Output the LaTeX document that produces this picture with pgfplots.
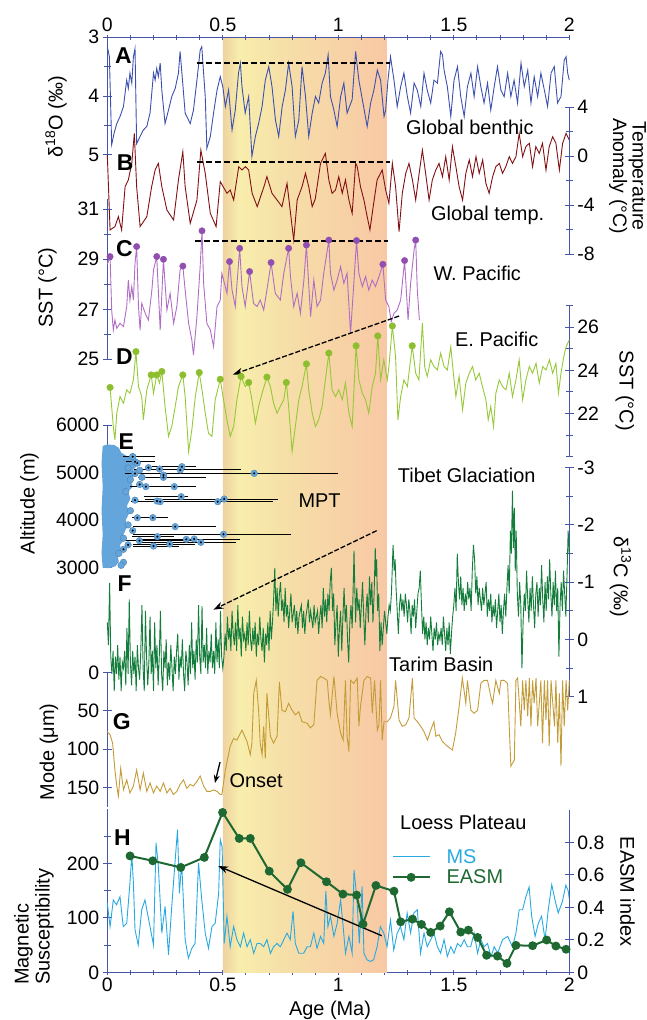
\documentclass[border=0pt]{standalone}
\usepackage{fontspec}
\setmainfont{Liberation Sans}
\usepackage{pgfplots}
\pgfplotsset{compat=1.18}
\usetikzlibrary{arrows.meta}

\definecolor{axisblue}{RGB}{70,85,165}
\definecolor{cA}{RGB}{60,80,175}
\definecolor{cB}{RGB}{130,15,20}
\definecolor{cC}{RGB}{175,110,195}
\definecolor{cCm}{RGB}{145,80,175}
\definecolor{cD}{RGB}{150,200,55}
\definecolor{cDm}{RGB}{140,190,45}
\definecolor{cE}{RGB}{100,165,220}
\definecolor{cF}{RGB}{20,125,60}
\definecolor{cG}{RGB}{195,155,55}
\definecolor{cMS}{RGB}{40,170,225}
\definecolor{cEASM}{RGB}{30,105,50}
\definecolor{bandTan}{RGB}{238,210,160}
\definecolor{bandYel}{RGB}{248,238,172}
\definecolor{bandMid}{RGB}{246,224,168}
\definecolor{bandPeach}{RGB}{248,200,165}

\newcommand\lblfont{\fontsize{20}{21}\selectfont}
\newcommand\tickfont{\fontsize{19.5}{21}\selectfont}
\newcommand\letfont{\fontsize{23}{25}\selectfont\bfseries}

\pgfplotsset{
  noarrows/.style={
    every inner x axis line/.append style={-},
    every outer x axis line/.append style={-},
    every inner y axis line/.append style={-},
    every outer y axis line/.append style={-}},
  base/.style={scale only axis, width=462bp, xmin=0, xmax=2, clip=false, anchor=center,
    tick align=outside, axis line style={draw=axisblue, line width=1bp},
    tick style={draw=axisblue, line width=1bp},
    tick label style={font=\tickfont, text=black},
    /pgf/number format/assume math mode=true, /pgf/number format/1000 sep={}},
  lp/.style={base, axis x line=none, axis y line=left, noarrows, major tick length=9bp, minor tick length=7bp},
  rp/.style={base, axis x line=none, axis y line=right, noarrows, major tick length=9bp, minor tick length=7bp},
}

\begin{document}
\begin{tikzpicture}
\useasboundingbox (0,0) rectangle (647bp,-1020bp);

% ---------- frame (bottom axis) with shaded band ----------
\begin{axis}[base, height=935bp, at={(338.3bp,-504.8bp)}, ymin=0, ymax=1,
  axis y line=none, axis x line=bottom, noarrows,
  xtick={0,0.5,1,1.5,2}, xticklabels={0,0.5,1,1.5,2},
  minor xtick={0.1,0.2,0.3,0.4,0.6,0.7,0.8,0.9,1.1,1.2,1.3,1.4,1.6,1.7,1.8,1.9},
  major tick length=5bp, minor tick length=4.5bp]
\addplot[draw=none, left color=bandTan, right color=bandYel] coordinates {(0.5,0)(0.572,0)(0.572,1)(0.5,1)} -- cycle;
\addplot[draw=none, left color=bandYel, right color=bandMid] coordinates {(0.57,0)(0.752,0)(0.752,1)(0.57,1)} -- cycle;
\addplot[draw=none, left color=bandMid, right color=bandPeach] coordinates {(0.75,0)(1.21,0)(1.21,1)(0.75,1)} -- cycle;
\end{axis}

% ---------- frame (top axis) ----------
\begin{axis}[base, height=935bp, at={(338.3bp,-504.8bp)}, ymin=0, ymax=1,
  axis y line=none, axis x line=top, noarrows,
  xtick={0,0.5,1,1.5,2}, xticklabels={0,0.5,1,1.5,2},
  minor xtick={0.1,0.2,0.3,0.4,0.6,0.7,0.8,0.9,1.1,1.2,1.3,1.4,1.6,1.7,1.8,1.9},
  major tick length=5bp, minor tick length=4.5bp]
\end{axis}

% ---------- A: global benthic d18O ----------
\begin{axis}[lp, height=117.4bp, at={(338.3bp,-96bp)}, ymin=3, ymax=5, y dir=reverse,
  ytick={3,4,5}, minor ytick={3.5,4.5}]
\addplot[cA, line width=0.9bp] coordinates {
(0.000,3.16)(0.009,3.33)(0.019,4.83)(0.029,4.64)(0.041,4.47)(0.055,4.35)(0.070,4.18)(0.077,3.95)(0.084,3.73)(0.091,3.87)(0.098,3.61)(0.106,3.78)(0.113,3.33)(0.120,3.19)(0.127,4.81)(0.142,4.69)(0.156,4.58)(0.171,4.52)(0.185,4.29)(0.200,3.61)(0.207,3.73)(0.214,3.53)(0.221,3.67)(0.229,3.44)(0.236,3.90)(0.250,4.47)(0.265,4.24)(0.279,4.01)(0.294,3.87)(0.308,3.61)(0.315,3.24)(0.323,3.61)(0.337,4.29)(0.359,4.47)(0.373,4.24)(0.388,3.73)(0.402,3.22)(0.409,3.16)(0.424,4.01)(0.431,4.89)(0.446,4.69)(0.460,4.29)(0.475,3.90)(0.489,3.67)(0.500,3.84)(0.511,4.18)(0.525,3.90)(0.540,4.58)(0.554,4.24)(0.568,3.61)(0.576,3.44)(0.583,3.84)(0.597,4.29)(0.612,4.01)(0.626,5.03)(0.641,4.69)(0.655,4.47)(0.670,4.18)(0.684,3.73)(0.699,3.50)(0.713,3.84)(0.728,4.41)(0.742,4.69)(0.757,4.18)(0.771,3.90)(0.785,3.44)(0.800,3.84)(0.814,4.69)(0.829,4.41)(0.843,3.50)(0.858,4.01)(0.872,4.69)(0.887,4.29)(0.901,4.01)(0.915,4.12)(0.930,3.78)(0.944,3.61)(0.956,3.30)(0.966,4.01)(0.981,4.24)(0.995,4.52)(1.010,4.01)(1.024,3.78)(1.038,4.29)(1.060,4.06)(1.075,3.24)(1.089,3.73)(1.104,4.06)(1.125,4.52)(1.140,4.12)(1.154,3.90)(1.169,3.56)(1.183,3.73)(1.198,4.35)(1.205,4.24)(1.215,3.73)(1.226,3.33)(1.241,3.73)(1.255,4.18)(1.270,3.84)(1.284,3.61)(1.299,4.01)(1.313,4.29)(1.328,3.78)(1.342,3.90)(1.357,4.18)(1.371,3.61)(1.385,3.90)(1.400,4.12)(1.414,3.73)(1.429,3.78)(1.443,3.24)(1.451,3.30)(1.458,3.56)(1.472,3.84)(1.487,4.35)(1.501,3.73)(1.516,3.50)(1.530,4.01)(1.545,4.35)(1.559,3.84)(1.574,3.61)(1.588,4.01)(1.603,3.50)(1.617,3.84)(1.631,4.12)(1.646,3.78)(1.660,4.24)(1.675,3.84)(1.689,3.50)(1.704,3.90)(1.718,4.01)(1.733,3.61)(1.747,4.01)(1.761,3.73)(1.776,4.12)(1.791,3.44)(1.805,3.84)(1.820,3.56)(1.834,4.12)(1.848,3.67)(1.863,4.01)(1.877,3.61)(1.892,3.90)(1.906,4.18)(1.921,3.61)(1.935,3.50)(1.949,4.12)(1.964,4.01)(1.978,3.39)(1.986,3.33)(1.993,3.61)(2.000,3.73)};
\draw[black, line width=1.6bp, dash pattern=on 6bp off 3bp] (axis cs:0.387,3.44) -- (axis cs:1.224,3.44);
\end{axis}

% ---------- B: global temperature ----------
\begin{axis}[rp, height=147bp, at={(338.3bp,-180.8bp)}, ymin=-8, ymax=4,
  ytick={-8,-4,0,4}, minor ytick={-6,-2,2}]
\addplot[cB, line width=0.9bp] coordinates {
(0.000,0.11)(0.012,-6.01)(0.033,-5.74)(0.048,-4.93)(0.062,-6.01)(0.077,-2.48)(0.091,-1.93)(0.106,-0.58)(0.117,1.87)(0.127,-2.48)(0.142,-5.74)(0.171,-4.93)(0.192,-2.48)(0.207,-1.12)(0.221,-0.58)(0.236,-2.48)(0.258,-4.38)(0.287,-5.20)(0.308,-1.93)(0.327,0.38)(0.337,-2.48)(0.359,-5.47)(0.388,-3.57)(0.405,0.51)(0.424,-1.39)(0.446,-4.66)(0.471,-5.74)(0.489,-2.07)(0.518,-3.02)(0.532,-2.75)(0.547,-3.57)(0.569,-0.85)(0.583,-1.12)(0.598,-0.85)(0.612,-1.12)(0.627,-3.02)(0.649,-4.11)(0.678,-2.48)(0.691,-1.66)(0.713,-3.02)(0.735,-3.57)(0.756,-4.11)(0.778,-2.21)(0.800,-5.74)(0.807,-6.83)(0.822,-3.57)(0.843,-2.48)(0.858,-1.39)(0.872,-2.48)(0.887,-4.11)(0.900,-3.5)(0.912,-2.0)(0.923,-0.58)(0.944,0.24)(0.959,-1.93)(0.973,-3.02)(0.988,-2.75)(1.002,-1.66)(1.017,-3.02)(1.031,-1.93)(1.046,-3.57)(1.060,-4.66)(1.075,-0.58)(1.082,-0.85)(1.096,-2.48)(1.111,-3.57)(1.125,-4.93)(1.137,-6.01)(1.151,-4.11)(1.168,-1.93)(1.190,-1.12)(1.205,-2.75)(1.219,-3.84)(1.234,-0.58)(1.248,-2.48)(1.263,-6.15)(1.277,-3.02)(1.292,-1.39)(1.306,-0.58)(1.321,-1.93)(1.335,-3.57)(1.350,-1.39)(1.364,0.51)(1.378,-1.39)(1.393,-3.57)(1.407,-1.93)(1.422,-1.12)(1.436,-0.58)(1.451,-1.66)(1.465,-0.03)(1.480,-1.93)(1.494,0.79)(1.509,-0.85)(1.523,-2.48)(1.538,-3.57)(1.552,-1.39)(1.567,-0.30)(1.581,-1.66)(1.596,-0.03)(1.610,-1.39)(1.625,-0.30)(1.639,-2.21)(1.653,-3.02)(1.668,-1.66)(1.682,-0.85)(1.697,-0.58)(1.711,-1.39)(1.725,-0.85)(1.740,-0.03)(1.754,-0.58)(1.769,-0.03)(1.783,1.87)(1.798,-0.03)(1.812,0.79)(1.827,1.06)(1.841,-0.85)(1.855,0.79)(1.870,0.24)(1.884,1.06)(1.899,-1.12)(1.913,0.79)(1.928,1.60)(1.942,1.06)(1.957,-1.12)(1.971,1.06)(1.986,1.87)(2.000,1.33)};
\draw[black, line width=1.6bp, dash pattern=on 6bp off 3bp] (axis cs:0.387,-0.47) -- (axis cs:1.224,-0.47);
\end{axis}

% ---------- C: W. Pacific SST ----------
\begin{axis}[lp, height=160bp, at={(338.3bp,-279.3bp)}, ymin=25, ymax=31.4,
  ytick={25,27,29,31}, minor ytick={26,28,30}]
\addplot[cC, line width=0.9bp] coordinates {
(0.000,28.8)(0.012,29.11)(0.019,26.97)(0.026,26.17)(0.033,26.57)(0.041,26.24)(0.055,26.44)(0.070,26.31)(0.084,27.11)(0.091,28.17)(0.098,27.37)(0.106,27.91)(0.113,27.37)(0.120,28.84)(0.127,29.51)(0.135,27.11)(0.142,26.17)(0.149,27.24)(0.164,26.84)(0.178,26.57)(0.193,27.77)(0.200,28.57)(0.214,29.11)(0.229,26.17)(0.243,29.00)(0.258,26.97)(0.272,27.64)(0.287,26.44)(0.301,27.11)(0.315,28.57)(0.327,28.73)(0.337,27.77)(0.352,26.44)(0.366,25.77)(0.373,25.17)(0.388,26.71)(0.402,28.71)(0.410,30.14)(0.417,28.04)(0.431,26.44)(0.446,26.17)(0.460,25.51)(0.475,27.11)(0.489,27.37)(0.496,28.44)(0.518,27.64)(0.529,28.91)(0.540,27.77)(0.554,27.11)(0.573,29.44)(0.583,27.91)(0.597,27.11)(0.616,28.51)(0.633,27.24)(0.648,27.11)(0.662,27.37)(0.677,26.97)(0.691,27.77)(0.709,28.87)(0.727,27.64)(0.749,27.37)(0.764,28.44)(0.785,29.44)(0.793,28.31)(0.807,27.11)(0.822,27.64)(0.836,26.84)(0.851,28.17)(0.862,29.57)(0.880,26.71)(0.894,28.17)(0.908,27.11)(0.923,27.37)(0.937,28.44)(0.959,29.77)(0.966,28.44)(0.981,27.77)(0.995,28.17)(1.010,28.71)(1.024,28.04)(1.038,28.44)(1.053,26.04)(1.068,28.17)(1.079,29.75)(1.089,28.44)(1.104,27.91)(1.118,28.31)(1.132,27.77)(1.147,28.17)(1.161,27.91)(1.176,28.31)(1.193,28.80)(1.205,27.37)(1.219,27.11)(1.229,26.51)(1.241,26.84)(1.255,26.97)(1.270,27.37)(1.287,28.95)(1.302,26.57)(1.313,28.04)(1.328,29.37)(1.335,29.77)(1.342,27.77)(1.351,26.57)};
\addplot[only marks, mark=*, mark size=3.2bp, cCm] coordinates {
(0.012,29.11)(0.127,29.51)(0.214,29.11)(0.243,29.00)(0.327,28.73)(0.410,30.14)(0.529,28.91)(0.573,29.44)(0.616,28.51)(0.709,28.87)(0.785,29.44)(0.862,29.57)(0.959,29.77)(1.079,29.75)(1.193,28.80)(1.287,28.95)(1.335,29.77)};
\draw[black, line width=1.6bp, dash pattern=on 6bp off 3bp] (axis cs:0.38,29.74) -- (axis cs:1.215,29.74);
\end{axis}

% ---------- D: E. Pacific SST ----------
\begin{axis}[rp, height=151bp, at={(338.3bp,-381.2bp)}, ymin=20, ymax=27,
  ytick={22,24,26}, minor ytick={20,21,23,25,27}]
\addplot[cD, line width=0.9bp] coordinates {
(0.012,23.21)(0.026,21.40)(0.033,20.78)(0.041,22.02)(0.055,22.79)(0.070,22.48)(0.084,23.10)(0.098,22.94)(0.113,23.56)(0.124,24.87)(0.135,23.25)(0.149,22.79)(0.156,21.71)(0.171,23.10)(0.190,23.79)(0.200,22.94)(0.214,23.79)(0.226,23.41)(0.236,23.95)(0.250,22.33)(0.265,20.94)(0.279,21.40)(0.294,22.33)(0.308,23.25)(0.327,23.79)(0.337,22.79)(0.352,20.24)(0.366,21.25)(0.381,22.79)(0.398,23.90)(0.410,23.10)(0.424,22.02)(0.438,21.09)(0.453,20.94)(0.467,22.64)(0.489,23.59)(0.503,22.64)(0.518,21.71)(0.532,20.94)(0.547,21.40)(0.561,22.64)(0.579,23.72)(0.597,23.25)(0.612,23.44)(0.626,22.64)(0.641,21.56)(0.655,22.33)(0.670,22.94)(0.691,23.69)(0.706,23.25)(0.720,22.48)(0.735,22.02)(0.749,22.33)(0.764,22.64)(0.775,23.44)(0.785,22.33)(0.800,20.24)(0.814,21.40)(0.829,22.64)(0.843,23.25)(0.862,24.30)(0.872,23.10)(0.887,22.02)(0.901,21.40)(0.915,21.71)(0.930,22.33)(0.944,23.56)(0.959,24.80)(0.973,23.10)(0.988,22.79)(1.002,23.10)(1.017,22.64)(1.031,23.41)(1.046,22.02)(1.060,21.40)(1.077,25.14)(1.089,23.56)(1.104,22.94)(1.118,22.64)(1.132,22.02)(1.147,23.25)(1.161,23.87)(1.171,25.60)(1.183,23.56)(1.197,24.49)(1.212,23.56)(1.219,24.18)(1.234,26.06)(1.248,24.64)(1.258,21.71)(1.270,22.79)(1.284,23.56)(1.299,23.25)(1.320,25.14)(1.335,23.87)(1.349,23.56)(1.364,26.19)(1.374,24.18)(1.385,23.72)(1.400,24.49)(1.414,24.18)(1.429,24.02)(1.443,24.80)(1.458,24.18)(1.472,24.02)(1.487,25.10)(1.498,23.87)(1.509,22.79)(1.523,23.72)(1.538,22.17)(1.552,23.41)(1.567,23.87)(1.581,24.18)(1.595,23.56)(1.610,23.87)(1.624,23.25)(1.639,22.64)(1.649,21.71)(1.660,22.33)(1.672,21.40)(1.682,22.94)(1.697,23.56)(1.711,23.25)(1.726,23.10)(1.740,23.87)(1.754,22.79)(1.769,23.56)(1.783,24.49)(1.798,22.64)(1.812,23.56)(1.827,24.18)(1.841,23.87)(1.856,24.33)(1.870,23.41)(1.885,24.18)(1.899,24.02)(1.914,24.49)(1.928,23.87)(1.942,24.33)(1.953,22.94)(1.964,23.87)(1.976,24.64)(1.986,25.10)(2.000,25.41)};
\addplot[only marks, mark=*, mark size=3.3bp, cDm] coordinates {
(0.012,23.21)(0.124,24.87)(0.190,23.79)(0.214,23.79)(0.236,23.95)(0.327,23.79)(0.398,23.90)(0.489,23.59)(0.579,23.72)(0.612,23.44)(0.691,23.69)(0.775,23.44)(0.862,24.30)(0.959,24.80)(1.077,25.14)(1.171,25.60)(1.234,26.06)(1.320,25.14)};
\draw[black, line width=1.3bp, dash pattern=on 5bp off 2bp, -{Stealth[length=10bp,width=7bp]}] (axis cs:1.263,26.52) -- (axis cs:0.544,23.81);
\end{axis}

% ---------- E: Tibet altitude ----------
\begin{axis}[lp, height=142.7bp, at={(338.3bp,-496.35bp)}, ymin=3000, ymax=6000,
  ytick={3000,4000,5000,6000}, minor ytick={3500,4500,5500}]
\addplot[draw=none, fill=cE] coordinates {
(-0.02,5560)(0.0,5590)(0.03,5580)(0.05,5520)(0.06,5420)(0.09,5330)(0.12,5250)(0.13,5150)(0.11,5050)(0.12,4950)(0.10,4850)(0.11,4700)(0.09,4600)(0.10,4450)(0.085,4300)(0.095,4150)(0.08,4000)(0.085,3850)(0.07,3700)(0.075,3600)(0.055,3480)(0.06,3350)(0.045,3250)(0.05,3120)(0.035,3030)(0.01,2990)(-0.02,3000)(-0.025,3300)(-0.02,3700)(-0.025,4200)(-0.02,4700)(-0.025,5200)} -- cycle;
\addplot[only marks, mark=*, mark size=3.3bp, mark options={fill=cE, draw=cE!80!black, line width=0.4bp},
  error bars/.cd, x dir=both, x explicit, error bar style={black, line width=0.8bp}, error mark options={black, line width=0.8bp, mark size=2.5bp}] coordinates {
(0.110,5334) += (0.087,0) -= (0.03,0)
(0.120,5229) += (0.077,0) -= (0.03,0)
(0.226,5075) += (0.343,0) -= (0.10,0)
(0.323,5124) += (0.05,0) -= (0.12,0)
(0.636,4984) += (0.352,0) -= (0.55,0)
(0.243,4900) += (0.174,0) -= (0.10,0)
(0.167,4704) += (0.206,0) -= (0.06,0)
(0.290,4704) += (0.03,0) -= (0.10,0)
(0.215,4402) += (0.05,0) -= (0.10,0)
(0.320,4493) += (0.02,0) -= (0.15,0)
(0.478,4388) += (0.228,0) -= (0.30,0)
(0.506,4444) += (0.221,0) -= (0.33,0)
(0.197,4052) += (0.057,0) -= (0.08,0)
(0.294,3863) += (0.166,0) -= (0.17,0)
(0.503,3702) += (0.282,0) -= (0.38,0)
(0.139,3568) += (0.234,0) -= (0.05,0)
(0.217,3653) += (0.06,0) -= (0.10,0)
(0.200,3456) += (0.10,0) -= (0.08,0)
(0.270,3498) += (0.10,0) -= (0.15,0)
(0.342,3596) += (0.222,0) -= (0.20,0)
(0.376,3603) += (0.10,0) -= (0.20,0)
(0.405,3533) += (0.142,0) -= (0.25,0)
(0.178,5103) += (0.0,0) -= (0.0,0)
(0.316,5054) += (0.0,0) -= (0.0,0)
(0.243,4949) += (0.0,0) -= (0.0,0)
(0.229,4388) += (0.0,0) -= (0.0,0)
};
\addplot[only marks, mark=*, mark size=3.3bp, mark options={fill=cE, draw=cE!80!black, line width=0.4bp}] coordinates {
(0.11,5334)(0.13,5200)(0.09,5100)(0.12,4980)(0.10,4850)(0.14,4750)(0.08,4600)(0.12,4420)(0.10,4200)(0.13,4050)(0.09,3900)(0.11,3780)(0.07,3620)(0.09,3480)(0.07,3386)(0.07,3113)(0.05,3300)(0.06,3050)(0.15,4900)(0.14,5050)};
\addplot[only marks, mark=*, mark size=0.8bp, black] coordinates {
(0.110,5334)(0.120,5229)(0.226,5075)(0.323,5124)(0.636,4984)(0.243,4900)(0.167,4704)(0.290,4704)(0.215,4402)(0.320,4493)(0.478,4388)(0.506,4444)(0.197,4052)(0.294,3863)(0.503,3702)(0.139,3568)(0.217,3653)(0.200,3456)(0.270,3498)(0.342,3596)(0.376,3603)(0.405,3533)(0.178,5103)(0.316,5054)(0.243,4949)(0.229,4388)(0.13,5200)(0.12,4980)(0.14,4750)(0.12,4420)(0.13,4050)(0.11,3780)(0.09,3480)(0.07,3386)};
\end{axis}

% ---------- F: Tarim Basin d13C ----------
\begin{axis}[rp, height=229bp, at={(338.3bp,-582.2bp)}, ymin=-3, ymax=1, y dir=reverse,
  ytick={-3,-2,-1,0,1}, minor ytick={-2.5,-1.5,-0.5,0.5}]
\addplot[cF, line width=0.9bp] coordinates {
(0.000,-0.3)(0.005,0.1)(0.010,-0.99)(0.015,0.3)(0.020,0.6)(0.025,0.2)(0.030,0.9)(0.035,0.3)(0.040,0.6)(0.045,0.1)(0.050,0.7)(0.055,0.3)(0.060,0.9)(0.065,0.4)(0.070,0.5)(0.075,0.2)(0.080,0.8)(0.085,-0.2)(0.090,0.6)(0.095,-0.7)(0.100,0.4)(0.105,0.8)(0.110,0.2)(0.115,0.6)(0.120,0.3)(0.125,0.9)(0.130,0.1)(0.135,0.5)(0.140,0.7)(0.145,0.2)(0.150,-0.6)(0.155,0.5)(0.160,0.9)(0.165,-0.5)(0.170,0.3)(0.175,0.8)(0.180,0.4)(0.185,-0.4)(0.190,0.6)(0.195,0.2)(0.200,0.9)(0.205,-0.3)(0.210,0.5)(0.215,0.1)(0.220,0.8)(0.225,0.3)(0.230,-0.5)(0.235,0.6)(0.240,0.9)(0.245,0.2)(0.250,0.5)(0.255,0.0)(0.260,0.8)(0.265,0.4)(0.270,0.7)(0.275,0.1)(0.280,0.5)(0.285,0.9)(0.290,0.3)(0.295,0.6)(0.300,0.2)(0.305,-0.1)(0.310,0.7)(0.315,0.3)(0.320,0.5)(0.325,0.0)(0.330,0.6)(0.335,0.9)(0.340,0.2)(0.345,0.4)(0.350,0.8)(0.355,0.1)(0.360,0.6)(0.365,-0.3)(0.370,0.5)(0.375,0.2)(0.380,0.7)(0.385,0.0)(0.390,0.4)(0.395,-0.6)(0.400,0.3)(0.405,0.6)(0.410,-0.58)(0.415,0.4)(0.420,0.1)(0.425,0.5)(0.430,-0.2)(0.435,0.6)(0.440,0.2)(0.445,0.4)(0.450,-0.1)(0.455,0.5)(0.460,0.2)(0.465,0.6)(0.470,-0.3)(0.475,0.4)(0.480,0.0)(0.485,0.5)(0.490,-0.5)(0.495,0.3)(0.500,0.5)
(0.505,0.3)(0.510,-0.1)(0.515,0.2)(0.520,-0.4)(0.525,0.0)(0.530,-0.2)(0.535,0.2)(0.540,-0.5)(0.545,-0.1)(0.550,0.1)(0.555,-0.3)(0.560,0.2)(0.565,-0.6)(0.570,0.0)(0.575,-0.2)(0.580,0.3)(0.585,-0.4)(0.590,0.0)(0.595,-0.1)(0.600,0.2)(0.605,-0.3)(0.610,0.1)(0.615,-0.5)(0.620,0.0)(0.625,0.2)(0.630,-0.2)(0.635,0.1)(0.640,-0.3)(0.645,0.3)(0.650,-0.1)(0.655,0.1)(0.660,-0.4)(0.665,0.0)(0.670,0.2)(0.675,-0.2)(0.680,0.4)(0.685,-0.1)(0.690,0.1)(0.695,-0.3)(0.700,0.2)(0.705,-0.5)(0.710,0.0)(0.715,-0.3)(0.720,-0.7)(0.725,-1.25)(0.730,-0.5)(0.735,-0.9)(0.740,-0.4)(0.745,-0.8)(0.750,-1.0)(0.755,-0.5)(0.760,-0.7)(0.765,-0.3)(0.770,-0.9)(0.775,-0.4)(0.780,-0.6)(0.785,-0.2)(0.790,-0.5)(0.795,-0.8)(0.800,-0.3)(0.810,-0.6)(0.815,-0.2)(0.820,-0.5)(0.825,-0.1)(0.830,-0.4)(0.840,-0.6)(0.845,-0.2)(0.850,-0.5)(0.855,-0.1)(0.860,-0.4)(0.870,-0.7)(0.875,-0.3)(0.880,-0.5)(0.890,-0.2)(0.895,-0.6)(0.900,-0.3)(0.910,-0.5)(0.915,-0.1)(0.920,-0.4)
(0.925,-0.6)(0.930,-0.2)(0.935,-0.9)(0.940,-0.4)(0.945,-0.7)(0.950,-0.3)(0.955,-0.8)(0.960,-0.5)(0.965,-1.0)(0.970,-1.25)(0.975,-0.5)(0.980,-0.8)(0.985,0.1)(0.990,-0.3)(0.995,-0.6)(1.000,0.3)(1.005,-0.2)(1.010,-0.5)(1.015,0.2)(1.020,-0.4)(1.025,-0.9)(1.030,-0.3)(1.035,-0.6)(1.040,0.0)(1.045,0.4)(1.050,-0.3)(1.055,-0.6)(1.060,-0.2)(1.065,-1.0)(1.068,-1.55)(1.072,-0.8)(1.075,-0.3)(1.080,-0.9)(1.085,-0.5)(1.090,-0.7)(1.095,-0.2)(1.100,-0.6)(1.105,-1.0)(1.110,-0.4)(1.115,0.1)(1.120,-0.5)(1.125,-0.8)(1.130,-0.3)(1.135,-1.1)(1.140,-0.6)(1.145,-1.0)(1.150,-0.3)(1.155,-0.8)(1.160,-1.6)(1.163,-1.1)(1.166,-1.4)(1.170,-0.5)(1.175,-0.8)(1.180,0.2)(1.185,-0.3)(1.190,0.1)(1.195,-0.2)(1.200,-0.5)(1.205,-0.3)(1.210,-0.1)(1.215,-0.4)(1.220,-0.6)(1.225,-0.5)(1.230,-0.8)(1.237,-1.65)(1.242,-1.2)(1.246,-1.4)(1.250,-0.9)(1.255,-0.5)(1.260,-0.1)(1.265,-0.6)(1.270,-0.8)(1.275,-0.5)(1.280,-0.7)(1.285,-0.4)(1.290,-0.8)(1.295,-0.6)(1.300,-0.3)(1.305,-0.7)(1.310,-0.5)(1.315,-0.1)(1.320,-0.6)(1.325,-0.4)(1.330,-0.7)(1.335,-0.2)(1.340,-0.5)(1.345,-0.8)(1.350,-0.9)(1.355,-1.2)(1.360,-0.6)(1.365,-0.1)(1.370,-0.4)(1.375,0.0)(1.380,-0.3)(1.385,0.1)(1.390,-0.2)(1.395,0.0)(1.400,-0.4)(1.405,-0.1)(1.410,0.2)(1.415,-0.2)(1.420,0.0)(1.425,-0.3)(1.430,0.1)(1.435,-0.1)(1.440,0.0)(1.445,-0.2)(1.450,0.1)(1.455,-0.4)(1.460,-0.1)(1.465,0.2)(1.470,-0.2)(1.475,0.1)(1.480,-0.3)(1.485,0.25)(1.490,-0.1)(1.495,-0.4)(1.500,-0.6)(1.505,-0.9)(1.510,-0.5)(1.515,-1.5)(1.520,-1.0)(1.525,-0.7)(1.530,-1.1)(1.535,-0.6)(1.540,-0.9)(1.545,-0.5)(1.550,-0.8)(1.555,-0.6)(1.560,-1.0)(1.565,-0.7)(1.570,-0.9)(1.575,-0.5)(1.580,-1.2)(1.585,-1.65)(1.590,-1.4)(1.595,-0.8)(1.600,-1.1)(1.605,-0.6)(1.610,-0.9)(1.615,-0.7)(1.620,-0.5)(1.625,-0.9)(1.630,-0.6)(1.635,-0.8)(1.640,-1.0)(1.645,-0.4)(1.650,-0.7)(1.655,-0.5)(1.660,-0.8)(1.665,-0.3)(1.670,-0.6)(1.675,-0.4)(1.680,-0.7)(1.685,-0.2)(1.690,-0.5)(1.695,-0.8)(1.700,-0.3)(1.705,-0.6)(1.710,-0.1)(1.715,-0.5)(1.720,-0.8)(1.725,-0.4)(1.730,-0.9)(1.735,-1.3)(1.740,-0.8)(1.745,-1.9)(1.749,-1.5)(1.754,-2.6)(1.758,-1.6)(1.762,-2.3)(1.766,-1.2)(1.770,-1.9)(1.775,-0.8)(1.780,-0.4)(1.785,-1.0)(1.790,-0.6)(1.795,0.5)(1.800,-0.3)(1.805,-0.8)(1.810,-0.5)(1.815,-1.2)(1.820,-0.7)(1.825,-0.3)(1.830,-0.9)(1.835,-0.5)(1.840,-1.1)(1.845,-0.6)(1.850,-0.2)(1.855,-0.8)(1.860,-1.0)(1.865,-0.4)(1.870,-0.9)(1.875,-0.6)(1.880,-1.3)(1.885,-0.7)(1.890,-0.3)(1.895,-1.0)(1.900,-0.5)(1.905,-1.1)(1.910,-0.7)(1.915,-1.4)(1.920,-0.8)(1.925,-0.4)(1.930,-1.0)(1.935,-0.6)(1.940,-1.2)(1.945,-0.5)(1.950,-0.9)(1.955,0.3)(1.960,-0.6)(1.965,-1.0)(1.970,-0.5)(1.975,-1.2)(1.980,-0.8)(1.985,-0.4)(1.990,-1.1)(1.995,-1.9)(2.000,-1.5)};
\draw[black, line width=1.3bp, dash pattern=on 5bp off 2bp, -{Stealth[length=10bp,width=7bp]}] (axis cs:1.166,-1.90) -- (axis cs:0.459,-0.52);
\end{axis}

% ---------- G: Mode grain size ----------
\begin{axis}[lp, height=134bp, at={(338.3bp,-739.7bp)}, ymin=0, ymax=175, y dir=reverse,
  ytick={0,50,100,150}]
\addplot[cG, line width=0.9bp] coordinates {
(0.000,77)(0.012,81)(0.023,92)(0.033,127)(0.041,148)(0.048,161)(0.058,125)(0.070,153)(0.084,140)(0.098,157)(0.113,148)(0.127,127)(0.142,153)(0.156,131)(0.171,155)(0.185,144)(0.200,157)(0.214,148)(0.229,155)(0.243,144)(0.258,157)(0.272,151)(0.286,159)(0.301,155)(0.315,146)(0.330,140)(0.344,151)(0.359,146)(0.373,148)(0.388,142)(0.402,135)(0.417,148)(0.431,155)(0.446,155)(0.460,153)(0.475,155)(0.489,159)(0.496,159)(0.511,127)(0.532,96)(0.547,86)(0.561,88)(0.583,75)(0.605,90)(0.619,107)(0.626,92)(0.634,27)(0.645,10)(0.655,49)(0.662,92)(0.670,107)(0.677,70)(0.684,112)(0.691,27)(0.706,83)(0.720,92)(0.735,83)(0.745,12)(0.756,49)(0.771,51)(0.785,40)(0.800,49)(0.814,55)(0.829,51)(0.843,64)(0.865,66)(0.879,72)(0.894,68)(0.908,10)(0.923,5)(0.937,7)(0.952,10)(0.959,36)(0.966,55)(0.981,5)(0.995,53)(1.010,79)(1.021,88)(1.031,10)(1.038,83)(1.046,103)(1.053,10)(1.067,14)(1.082,7)(1.089,70)(1.096,44)(1.111,10)(1.125,5)(1.140,7)(1.147,53)(1.157,10)(1.169,75)(1.176,68)(1.183,10)(1.190,88)(1.198,64)(1.212,64)(1.226,59)(1.241,44)(1.248,10)(1.263,62)(1.277,70)(1.292,68)(1.306,59)(1.321,7)(1.328,59)(1.342,64)(1.357,70)(1.371,77)(1.386,88)(1.400,75)(1.414,64)(1.422,83)(1.436,81)(1.451,90)(1.472,96)(1.494,101)(1.508,79)(1.523,44)(1.537,7)(1.552,40)(1.559,10)(1.574,49)(1.588,53)(1.603,49)(1.617,14)(1.631,10)(1.646,10)(1.660,31)(1.668,40)(1.682,10)(1.697,27)(1.704,10)(1.718,10)(1.733,14)(1.740,70)(1.747,122)(1.762,114)(1.769,10)(1.776,7)(1.783,36)(1.790,70)(1.798,10)(1.805,49)(1.812,10)(1.820,57)(1.827,7)(1.834,70)(1.841,10)(1.848,40)(1.856,7)(1.863,70)(1.877,10)(1.884,92)(1.892,10)(1.899,62)(1.906,10)(1.913,96)(1.921,10)(1.936,70)(1.942,10)(1.950,92)(1.957,27)(1.964,122)(1.971,10)(1.978,70)(1.986,10)(1.993,49)(2.000,10)};
\draw[black, line width=1.3bp, -{Stealth[length=8bp,width=6bp]}] (axis cs:0.488,116.7) -- (axis cs:0.466,144);
\end{axis}

% ---------- H left: magnetic susceptibility ----------
\begin{axis}[lp, height=163.3bp, at={(338.3bp,-890.65bp)}, ymin=0, ymax=300,
  ytick={0,100,200}, minor ytick={50,150,250}]
\addplot[cMS, line width=0.9bp] coordinates {
(0.000,127)(0.012,84)(0.026,133)(0.040,124)(0.055,139)(0.069,84)(0.084,90)(0.098,164)(0.106,216)(0.113,164)(0.120,78)(0.134,50)(0.149,115)(0.163,133)(0.171,115)(0.185,84)(0.200,50)(0.211,238)(0.221,195)(0.236,72)(0.250,121)(0.265,32)(0.279,121)(0.294,207)(0.304,262)(0.312,145)(0.322,201)(0.337,60)(0.351,26)(0.366,44)(0.380,53)(0.395,201)(0.409,133)(0.424,72)(0.438,44)(0.453,84)(0.467,90)(0.482,145)(0.489,244)(0.497,231)(0.506,53)(0.518,103)(0.532,47)(0.547,84)(0.561,60)(0.576,47)(0.590,72)(0.605,47)(0.619,60)(0.634,35)(0.648,53)(0.662,53)(0.677,47)(0.691,60)(0.706,35)(0.720,47)(0.735,53)(0.749,47)(0.764,60)(0.778,72)(0.792,60)(0.804,112)(0.814,53)(0.829,35)(0.850,35)(0.865,47)(0.879,47)(0.894,72)(0.908,44)(0.923,66)(0.937,53)(0.946,149)(0.955,84)(0.966,103)(0.981,66)(0.995,90)(1.010,133)(1.021,84)(1.031,35)(1.046,66)(1.060,35)(1.068,188)(1.081,133)(1.091,53)(1.103,158)(1.111,35)(1.124,23)(1.139,20)(1.153,23)(1.168,47)(1.182,84)(1.197,72)(1.211,47)(1.226,96)(1.240,41)(1.255,72)(1.269,84)(1.284,60)(1.298,109)(1.313,72)(1.327,109)(1.342,115)(1.356,35)(1.371,72)(1.385,47)(1.400,60)(1.414,72)(1.429,47)(1.443,35)(1.458,60)(1.472,29)(1.487,47)(1.501,35)(1.516,53)(1.530,47)(1.545,60)(1.559,47)(1.573,47)(1.588,72)(1.603,35)(1.617,60)(1.631,47)(1.646,53)(1.661,29)(1.675,47)(1.690,35)(1.711,60)(1.733,66)(1.754,47)(1.769,72)(1.783,115)(1.798,115)(1.812,139)(1.826,157)(1.837,103)(1.852,66)(1.866,90)(1.880,103)(1.895,60)(1.909,115)(1.924,161)(1.938,133)(1.952,109)(1.970,130)(1.985,160)(1.995,150)(2.000,135)};
\end{axis}

% ---------- H right: EASM index ----------
\begin{axis}[rp, height=162.3bp, at={(338.3bp,-891.15bp)}, ymin=0, ymax=1,
  ytick={0,0.2,0.4,0.6,0.8},
  legend style={at={(0.615,0.772)}, anchor=north west, draw=none, fill=none, inner sep=0pt,
    font=\lblfont, row sep=1bp, nodes={inner sep=2bp}},
  legend cell align=left,
  legend image code/.code={\draw[mark repeat=2,mark phase=2,#1] plot coordinates {(0bp,0bp) (18.5bp,0bp) (37bp,0bp)};}]
\addlegendimage{cMS, line width=0.9bp}
\addlegendentry{\hspace*{14bp}\textcolor{cMS}{MS}}
\addplot[cEASM, line width=2bp, mark=*, mark size=3.4bp] coordinates {
(0.0985,0.717)(0.197,0.687)(0.318,0.646)(0.420,0.708)(0.499,0.985)(0.571,0.825)(0.619,0.825)(0.701,0.623)(0.780,0.511)(0.838,0.675)(0.949,0.558)(1.020,0.482)(1.079,0.476)(1.107,0.297)(1.163,0.535)(1.241,0.500)(1.270,0.311)(1.321,0.328)(1.360,0.295)(1.400,0.246)(1.441,0.285)(1.481,0.373)(1.530,0.248)(1.563,0.260)(1.603,0.215)(1.642,0.105)(1.689,0.100)(1.730,0.055)(1.769,0.166)(1.841,0.164)(1.902,0.199)(1.942,0.162)(1.986,0.142)};
\addlegendentry{\hspace*{14bp}\textcolor{cEASM}{EASM}}
\draw[black, line width=1.3bp, -{Stealth[length=10bp,width=7bp]}] (axis cs:1.188,0.2255) -- (axis cs:0.48,0.655);
\end{axis}

% ---------- texts ----------
\begin{scope}[every node/.style={inner sep=0pt}]
\node[anchor=base west, font=\letfont] at (115bp,-63.3bp) {A};
\node[anchor=base west, font=\letfont] at (116.7bp,-170bp) {B};
\node[anchor=base west, font=\letfont] at (116bp,-256.7bp) {C};
\node[anchor=base west, font=\letfont] at (116bp,-364bp) {D};
\node[anchor=base west, font=\letfont] at (118.3bp,-449.3bp) {E};
\node[anchor=base west, font=\letfont] at (117.3bp,-591.7bp) {F};
\node[anchor=base west, font=\letfont] at (112.7bp,-729.3bp) {G};
\node[anchor=base west, font=\letfont] at (114bp,-845bp) {H};

\node[anchor=base west, font=\lblfont] at (406bp,-134bp) {Global benthic};
\node[anchor=base west, font=\lblfont] at (431bp,-220.7bp) {Global temp.};
\node[anchor=base west, font=\lblfont] at (433.3bp,-280.7bp) {W. Pacific};
\node[anchor=base west, font=\lblfont] at (455bp,-346.7bp) {E. Pacific};
\node[anchor=base west, font=\lblfont] at (397.7bp,-482.5bp) {Tibet Glaciation};
\node[anchor=base west, font=\lblfont] at (298.3bp,-507.3bp) {MPT};
\node[anchor=base west, font=\lblfont] at (389bp,-671.7bp) {Tarim Basin};
\node[anchor=base west, font=\lblfont] at (229.3bp,-787.7bp) {Onset};
\node[anchor=base west, font=\lblfont] at (400bp,-829.3bp) {Loess Plateau};

\node[rotate=90, anchor=center, font=\lblfont] at (56bp,-116.7bp) {δ\textsuperscript{18}O (‰)};
\node[rotate=-90, anchor=center, align=center, font=\fontsize{19.5}{19.5}\selectfont] at (627.5bp,-176bp) {Temperature\\Anomaly (°C)};
\node[rotate=90, anchor=center, font=\lblfont] at (47.5bp,-287.5bp) {SST (°C)};
\node[rotate=-90, anchor=center, font=\lblfont] at (624.7bp,-390.8bp) {SST (°C)};
\node[rotate=90, anchor=center, font=\lblfont] at (29.5bp,-503.3bp) {Altitude (m)};
\node[rotate=-90, anchor=center, font=\lblfont] at (620.5bp,-576.7bp) {δ\textsuperscript{13}C (‰)};
\node[rotate=90, anchor=center, font=\lblfont] at (49bp,-751.7bp) {Mode (μm)};
\node[rotate=90, anchor=north west, align=left, font=\lblfont] at (14bp,-985bp) {Magnetic\\Susceptibility};
\node[rotate=-90, anchor=center, font=\lblfont] at (627.5bp,-891.7bp) {EASM index};
\node[anchor=base, font=\lblfont] at (330bp,-1015bp) {Age (Ma)};
\end{scope}
\end{tikzpicture}
\end{document}
